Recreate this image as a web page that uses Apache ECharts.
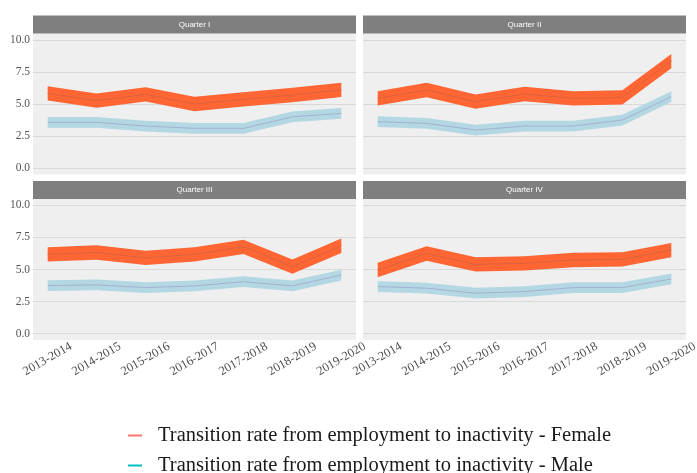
<!DOCTYPE html>
<html>
<head>
<meta charset="utf-8">
<script src="https://cdn.jsdelivr.net/npm/echarts@6/dist/echarts.min.js"></script>
<style>
  html, body { margin: 0; padding: 0; background: #ffffff; }
  #chart { width: 697px; height: 473px; }
</style>
</head>
<body>
<div id="chart"></div>
<script>
// Periods on the x axis and facet titles
const periods = ['2013-2014', '2014-2015', '2015-2016', '2016-2017', '2017-2018', '2018-2019', '2019-2020'];
const quarters = ['Quarter I', 'Quarter II', 'Quarter III', 'Quarter IV'];
const yTicks = [0, 2.5, 5, 7.5, 10];

// Transition rate from employment to inactivity (%), by quarter
const femaleQ1 = [5.83, 5.26, 5.75, 5.00, 5.36, 5.70, 6.10];
const femaleQ2 = [5.44, 6.09, 5.18, 5.78, 5.44, 5.52, 8.35];
const femaleQ3 = [6.18, 6.33, 5.91, 6.18, 6.77, 5.22, 6.85];
const femaleQ4 = [4.96, 6.25, 5.40, 5.48, 5.74, 5.79, 6.51];

const maleQ1 = [3.57, 3.57, 3.28, 3.10, 3.10, 4.00, 4.27];
const maleQ2 = [3.62, 3.49, 2.97, 3.28, 3.28, 3.75, 5.57];
const maleQ3 = [3.75, 3.80, 3.59, 3.72, 4.05, 3.72, 4.57];
const maleQ4 = [3.67, 3.54, 3.15, 3.28, 3.59, 3.59, 4.26];

// Half-width of the confidence band around each estimate
const femaleBand = 0.56;
const maleBand = 0.42;

const femaleName = 'Transition rate from employment to inactivity - Female';
const maleName = 'Transition rate from employment to inactivity - Male';

const femaleSets = [femaleQ1, femaleQ2, femaleQ3, femaleQ4];
const maleSets = [maleQ1, maleQ2, maleQ3, maleQ4];

const panelW = 323, panelH = 141, stripH = 18;
const panels = [
  { left: 33, top: 33.5 },
  { left: 363, top: 33.5 },
  { left: 33, top: 199 },
  { left: 363, top: 199 }
];

const serif = 'Liberation Serif, Times New Roman, serif';

const grids = [], xAxes = [], yAxes = [], series = [], graphics = [];

panels.forEach((p, i) => {
  grids.push({ left: p.left, top: p.top, width: panelW, height: panelH,
    outerBoundsMode: 'none', containLabel: false,
    show: true, backgroundColor: '#efefef', borderWidth: 0 });

  xAxes.push({
    type: 'value', gridIndex: i, min: -0.3, max: 6.3,
    axisLine: { show: false },
    axisTick: { show: false, customValues: [0, 1, 2, 3, 4, 5, 6] },
    splitLine: { show: false },
    axisLabel: {
      show: i >= 2,
      customValues: [0, 1, 2, 3, 4, 5, 6],
      formatter: v => periods[Math.round(v)],
      rotate: 30, margin: 19, align: 'center', verticalAlign: 'middle',
      fontFamily: serif, fontSize: 12.5, color: '#4d4d4d'
    }
  });

  yAxes.push({
    type: 'value', gridIndex: i, min: -0.5, max: 10.5,
    axisLine: { show: false },
    axisTick: { show: false, customValues: yTicks },
    splitLine: { show: true, lineStyle: { color: '#d9d9d9', width: 1 } },
    axisLabel: {
      show: i % 2 === 0,
      customValues: yTicks,
      formatter: v => v.toFixed(1),
      margin: 3,
      fontFamily: serif, fontSize: 11.5, color: '#555555'
    }
  });

  // facet strip
  graphics.push({
    type: 'rect', left: p.left, top: p.top - stripH,
    shape: { width: panelW, height: stripH },
    style: { fill: '#7f7f7f' }, silent: true
  });
  graphics.push({
    type: 'text', x: p.left + panelW / 2, y: p.top - stripH / 2,
    style: { text: quarters[i], fill: '#ffffff', font: '8px Liberation Sans, Arial, sans-serif',
      align: 'center', verticalAlign: 'middle' }, silent: true
  });

  series.push(bandSeries(maleSets[i], maleBand, i, '#b3d8e3'));
  series.push(bandSeries(femaleSets[i], femaleBand, i, '#ff6633'));
  series.push(centerLine(maleName, maleSets[i], i, '#a3b1d0'));
  series.push(centerLine(femaleName, femaleSets[i], i, '#d8633f'));
});

function bandSeries(center, half, idx, fill) {
  return {
    type: 'custom', xAxisIndex: idx, yAxisIndex: idx, silent: true, z: 2,
    data: center.map((v, k) => [k, v - half, v + half]),
    encode: { x: 0, y: [1, 2] },
    renderItem(params, api) {
      if (params.dataIndex !== 0) return null;
      const upper = center.map((v, k) => api.coord([k, v + half]));
      const lower = center.map((v, k) => api.coord([k, v - half])).reverse();
      return { type: 'polygon', shape: { points: upper.concat(lower) }, style: { fill: fill } };
    }
  };
}

function centerLine(name, values, idx, color) {
  return {
    name: name, type: 'line', xAxisIndex: idx, yAxisIndex: idx, z: 3,
    data: values.map((v, k) => [k, v]),
    symbol: 'none', silent: true,
    lineStyle: { color: color, width: 1 },
    itemStyle: { color: color }
  };
}

function legendRow(name, color, top) {
  return {
    orient: 'horizontal', left: 123, top: top,
    itemWidth: 14, itemHeight: 2, icon: 'rect',
    selectedMode: false,
    textStyle: { fontFamily: serif, fontSize: 20.5, color: '#1a1a1a', padding: [0, 0, 0, 11] },
    data: [{ name: name, itemStyle: { color: color } }]
  };
}

const chart = echarts.init(document.getElementById('chart'), null, { renderer: 'canvas' });
chart.setOption({
  animation: false,
  backgroundColor: '#ffffff',
  grid: grids,
  xAxis: xAxes,
  yAxis: yAxes,
  series: series,
  graphic: graphics,
  legend: [
    legendRow(femaleName, '#f8766d', 420),
    legendRow(maleName, '#00bfc4', 450)
  ]
});
</script>
</body>
</html>
